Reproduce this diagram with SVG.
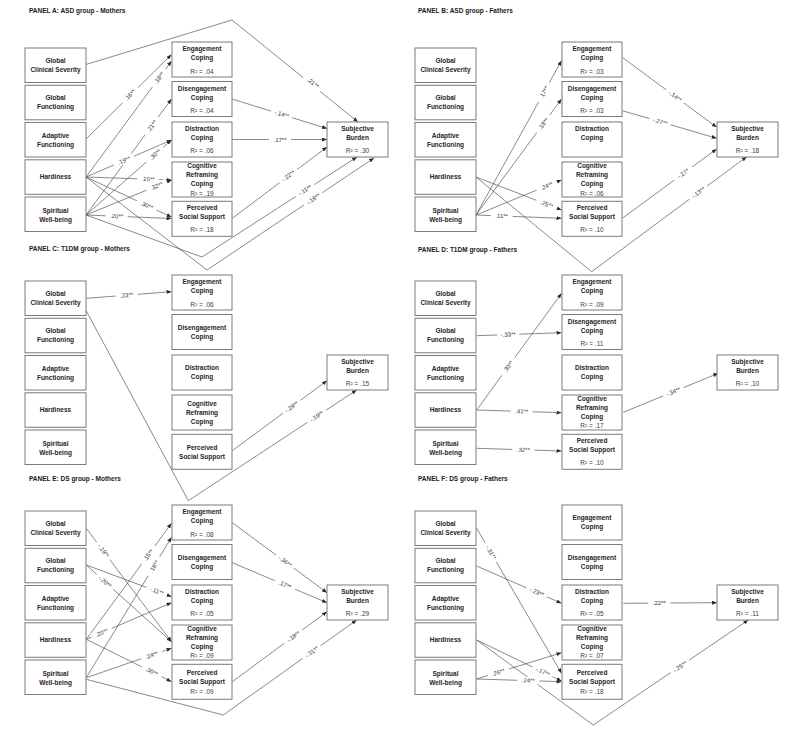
<svg xmlns="http://www.w3.org/2000/svg" width="799" height="736" viewBox="0 0 799 736">
<style>
.box{fill:#fff;stroke:#7a7a7a;stroke-width:1}
.nt{font-family:"Liberation Sans",Arial,sans-serif;font-size:6.5px;font-weight:bold;fill:#262626;text-anchor:middle}
.r2{font-family:"Liberation Sans",Arial,sans-serif;font-size:6.5px;fill:#404040;text-anchor:middle}
.ttl{font-family:"Liberation Sans",Arial,sans-serif;font-size:6.5px;font-weight:bold;fill:#1a1a1a}
.edge{fill:none;stroke:#3a3a3a;stroke-width:0.6;marker-end:url(#ah)}
.lb{fill:#fff}
.lt{font-family:"Liberation Sans",Arial,sans-serif;font-size:6px;fill:#333;text-anchor:middle}
</style>
<defs>
<marker id="ah" markerUnits="userSpaceOnUse" markerWidth="5" markerHeight="4" refX="5" refY="2" orient="auto"><path d="M0,0 L5,2 L0,4 z" fill="#2a2a2a"/></marker>
</defs>
<rect width="799" height="736" fill="#fff"/>
<text class="ttl" x="29" y="12.5">PANEL A: ASD group - Mothers</text>
<text class="ttl" x="418" y="12.5">PANEL B: ASD group - Fathers</text>
<text class="ttl" x="29" y="251">PANEL C: T1DM group - Mothers</text>
<text class="ttl" x="418" y="252">PANEL D: T1DM group - Fathers</text>
<text class="ttl" x="29" y="481">PANEL E: DS group - Mothers</text>
<text class="ttl" x="418" y="481">PANEL F: DS group - Fathers</text>

<!-- PANEL A -->
<g id="panelA">
<g id="A-connectors">
<polyline class="edge" points="86,64.5 232,20 358,122"/>
<line class="edge" x1="86" y1="139" x2="171.5" y2="54.5"/>
<line class="edge" x1="86" y1="177" x2="171.5" y2="61"/>
<line class="edge" x1="86" y1="215" x2="171.5" y2="99"/>
<line class="edge" x1="86" y1="177" x2="171.5" y2="140"/>
<line class="edge" x1="86" y1="215" x2="171.5" y2="140"/>
<line class="edge" x1="86" y1="177" x2="171.5" y2="180"/>
<line class="edge" x1="86" y1="215" x2="171.5" y2="180"/>
<line class="edge" x1="86" y1="177" x2="171.5" y2="217"/>
<line class="edge" x1="86" y1="215" x2="171.5" y2="218.5"/>
<polyline class="edge" points="86,177 207,270 374,158"/>
<polyline class="edge" points="86,215 202,257 357,157"/>
<line class="edge" x1="232" y1="99" x2="327" y2="128.5"/>
<line class="edge" x1="232" y1="139.5" x2="327" y2="139.5"/>
<line class="edge" x1="232" y1="218.5" x2="327" y2="147"/>
<g transform="translate(313,83) rotate(39)"><rect class="lb" x="-11" y="-3.5" width="22" height="7"/><text class="lt" y="2">.21**</text></g>
<g transform="translate(130,95) rotate(-44.7)"><rect class="lb" x="-11" y="-3.5" width="22" height="7"/><text class="lt" y="2">.16**</text></g>
<g transform="translate(159,78) rotate(-53.6)"><rect class="lb" x="-11" y="-3.5" width="22" height="7"/><text class="lt" y="2">.18**</text></g>
<g transform="translate(151.7,126) rotate(-53.6)"><rect class="lb" x="-11" y="-3.5" width="22" height="7"/><text class="lt" y="2">.21**</text></g>
<g transform="translate(124,160.6) rotate(-23.4)"><rect class="lb" x="-11" y="-3.5" width="22" height="7"/><text class="lt" y="2">.19**</text></g>
<g transform="translate(155,154.5) rotate(-41.3)"><rect class="lb" x="-11" y="-3.5" width="22" height="7"/><text class="lt" y="2">.30**</text></g>
<g transform="translate(148,179.2) rotate(2)"><rect class="lb" x="-11" y="-3.5" width="22" height="7"/><text class="lt" y="2">.15**</text></g>
<g transform="translate(156.7,186) rotate(-22.3)"><rect class="lb" x="-11" y="-3.5" width="22" height="7"/><text class="lt" y="2">.32**</text></g>
<g transform="translate(146.7,205.4) rotate(25)"><rect class="lb" x="-11" y="-3.5" width="22" height="7"/><text class="lt" y="2">.30**</text></g>
<g transform="translate(116.7,216.2) rotate(2.3)"><rect class="lb" x="-11" y="-3.5" width="22" height="7"/><text class="lt" y="2">.20**</text></g>
<g transform="translate(313.3,199) rotate(-33.8)"><rect class="lb" x="-11" y="-3.5" width="22" height="7"/><text class="lt" y="2">-.18**</text></g>
<g transform="translate(305,190.2) rotate(-33)"><rect class="lb" x="-11" y="-3.5" width="22" height="7"/><text class="lt" y="2">-.11**</text></g>
<g transform="translate(281.7,114.3) rotate(17)"><rect class="lb" x="-11" y="-3.5" width="22" height="7"/><text class="lt" y="2">-.14**</text></g>
<g transform="translate(280,139.5)"><rect class="lb" x="-11" y="-3.5" width="22" height="7"/><text class="lt" y="2">.17**</text></g>
<g transform="translate(288.3,175.9) rotate(-37)"><rect class="lb" x="-11" y="-3.5" width="22" height="7"/><text class="lt" y="2">-.22**</text></g>
</g>
<g id="A-gcs"><rect class="box" x="25" y="48" width="61" height="34.5"/><text class="nt" x="55.5" y="63">Global</text><text class="nt" x="55.5" y="72">Clinical Severity</text></g>
<g id="A-gf"><rect class="box" x="25" y="85.3" width="61" height="34.5"/><text class="nt" x="55.5" y="100.3">Global</text><text class="nt" x="55.5" y="109.3">Functioning</text></g>
<g id="A-af"><rect class="box" x="25" y="122.5" width="61" height="34.5"/><text class="nt" x="55.5" y="138">Adaptive</text><text class="nt" x="55.5" y="147">Functioning</text></g>
<g id="A-hard"><rect class="box" x="25" y="159.8" width="61" height="34.5"/><text class="nt" x="55.5" y="179.3">Hardiness</text></g>
<g id="A-swb"><rect class="box" x="25" y="197" width="61" height="34.5"/><text class="nt" x="55.5" y="213">Spiritual</text><text class="nt" x="55.5" y="222">Well-being</text></g>
<g id="A-eng"><rect class="box" x="172" y="42" width="60" height="35"/><text class="nt" x="202" y="51.3">Engagement</text><text class="nt" x="202" y="60.3">Coping</text><text class="r2" x="202" y="73.6">R² = .04</text></g>
<g id="A-dis"><rect class="box" x="172" y="81.5" width="60" height="35"/><text class="nt" x="202" y="90.6">Disengagement</text><text class="nt" x="202" y="99.6">Coping</text><text class="r2" x="202" y="112.6">R² = .04</text></g>
<g id="A-dst"><rect class="box" x="172" y="122" width="60" height="35"/><text class="nt" x="202" y="131.3">Distraction</text><text class="nt" x="202" y="140">Coping</text><text class="r2" x="202" y="153.3">R² = .06</text></g>
<g id="A-cog"><rect class="box" x="172" y="162" width="60" height="35"/><text class="nt" x="202" y="168">Cognitive</text><text class="nt" x="202" y="177">Reframing</text><text class="nt" x="202" y="186.3">Coping</text><text class="r2" x="202" y="195.6">R² = .19</text></g>
<g id="A-pss"><rect class="box" x="172" y="201.3" width="60" height="35"/><text class="nt" x="202" y="209.6">Perceived</text><text class="nt" x="202" y="218.6">Social Support</text><text class="r2" x="202" y="232.3">R² = .18</text></g>
<g id="A-sb"><rect class="box" x="327" y="122" width="61" height="35"/><text class="nt" x="357.5" y="131.3">Subjective</text><text class="nt" x="357.5" y="139.6">Burden</text><text class="r2" x="357.5" y="153.3">R² = .30</text></g>
</g>

<!-- PANEL B -->
<g id="panelB" transform="translate(390,0)">
<g id="B-connectors">
<line class="edge" x1="86" y1="215" x2="171.5" y2="60.7"/>
<line class="edge" x1="86" y1="215" x2="171.5" y2="99"/>
<line class="edge" x1="86" y1="215" x2="171.5" y2="180"/>
<line class="edge" x1="86" y1="215" x2="171.5" y2="218.3"/>
<line class="edge" x1="86" y1="177" x2="171.5" y2="210"/>
<polyline class="edge" points="86,177 201.7,271.7 356.7,156.7"/>
<line class="edge" x1="232.3" y1="57.3" x2="326.7" y2="127.3"/>
<line class="edge" x1="232.3" y1="110.7" x2="326.7" y2="138.3"/>
<line class="edge" x1="232.3" y1="218.3" x2="326.7" y2="149"/>
<g transform="translate(154,92.3) rotate(-61)"><rect class="lb" x="-11" y="-3.5" width="22" height="7"/><text class="lt" y="2">.17**</text></g>
<g transform="translate(153.3,123.8) rotate(-53.6)"><rect class="lb" x="-11" y="-3.5" width="22" height="7"/><text class="lt" y="2">.18**</text></g>
<g transform="translate(156.7,186) rotate(-22.3)"><rect class="lb" x="-11" y="-3.5" width="22" height="7"/><text class="lt" y="2">.24**</text></g>
<g transform="translate(111.7,216) rotate(2)"><rect class="lb" x="-11" y="-3.5" width="22" height="7"/><text class="lt" y="2">.11**</text></g>
<g transform="translate(156.7,204.3) rotate(21)"><rect class="lb" x="-11" y="-3.5" width="22" height="7"/><text class="lt" y="2">.25**</text></g>
<g transform="translate(308.3,192.6) rotate(-36.6)"><rect class="lb" x="-11" y="-3.5" width="22" height="7"/><text class="lt" y="2">-.13**</text></g>
<g transform="translate(285,96.3) rotate(36.6)"><rect class="lb" x="-11" y="-3.5" width="22" height="7"/><text class="lt" y="2">-.14**</text></g>
<g transform="translate(270,121.7) rotate(16.3)"><rect class="lb" x="-11" y="-3.5" width="22" height="7"/><text class="lt" y="2">-.27**</text></g>
<g transform="translate(293.3,173.5) rotate(-36.3)"><rect class="lb" x="-11" y="-3.5" width="22" height="7"/><text class="lt" y="2">-.27*</text></g>
</g>
<g id="B-gcs"><rect class="box" x="25" y="48" width="61" height="34.5"/><text class="nt" x="55.5" y="63">Global</text><text class="nt" x="55.5" y="72">Clinical Severity</text></g>
<g id="B-gf"><rect class="box" x="25" y="85.3" width="61" height="34.5"/><text class="nt" x="55.5" y="100.3">Global</text><text class="nt" x="55.5" y="109.3">Functioning</text></g>
<g id="B-af"><rect class="box" x="25" y="122.5" width="61" height="34.5"/><text class="nt" x="55.5" y="138">Adaptive</text><text class="nt" x="55.5" y="147">Functioning</text></g>
<g id="B-hard"><rect class="box" x="25" y="159.8" width="61" height="34.5"/><text class="nt" x="55.5" y="179.3">Hardiness</text></g>
<g id="B-swb"><rect class="box" x="25" y="197" width="61" height="34.5"/><text class="nt" x="55.5" y="213">Spiritual</text><text class="nt" x="55.5" y="222">Well-being</text></g>
<g id="B-eng"><rect class="box" x="172" y="42" width="60" height="35"/><text class="nt" x="202" y="51.3">Engagement</text><text class="nt" x="202" y="60.3">Coping</text><text class="r2" x="202" y="73.6">R² = .03</text></g>
<g id="B-dis"><rect class="box" x="172" y="81.5" width="60" height="35"/><text class="nt" x="202" y="90.6">Disengagement</text><text class="nt" x="202" y="99.6">Coping</text><text class="r2" x="202" y="112.6">R² = .03</text></g>
<g id="B-dst"><rect class="box" x="172" y="122" width="60" height="35"/><text class="nt" x="202" y="131.3">Distraction</text><text class="nt" x="202" y="140">Coping</text></g>
<g id="B-cog"><rect class="box" x="172" y="162" width="60" height="35"/><text class="nt" x="202" y="168">Cognitive</text><text class="nt" x="202" y="177">Reframing</text><text class="nt" x="202" y="186.3">Coping</text><text class="r2" x="202" y="195.6">R² = .06</text></g>
<g id="B-pss"><rect class="box" x="172" y="201.3" width="60" height="35"/><text class="nt" x="202" y="209.6">Perceived</text><text class="nt" x="202" y="218.6">Social Support</text><text class="r2" x="202" y="232.3">R² = .10</text></g>
<g id="B-sb"><rect class="box" x="327" y="122" width="61" height="35"/><text class="nt" x="357.5" y="131.3">Subjective</text><text class="nt" x="357.5" y="139.6">Burden</text><text class="r2" x="357.5" y="153.3">R² = .18</text></g>
</g>

<!-- PANEL C -->
<g id="panelC" transform="translate(0,233)">
<g id="C-connectors">
<line class="edge" x1="86.3" y1="65.3" x2="171.5" y2="58.7"/>
<polyline class="edge" points="86.3,78 188.3,267.7 356.7,157"/>
<line class="edge" x1="232.3" y1="217.7" x2="327" y2="147.7"/>
<g transform="translate(126.7,62.2) rotate(-4.4)"><rect class="lb" x="-11" y="-3.5" width="22" height="7"/><text class="lt" y="2">.23**</text></g>
<g transform="translate(316.7,183.3) rotate(-33.3)"><rect class="lb" x="-11" y="-3.5" width="22" height="7"/><text class="lt" y="2">-.19**</text></g>
<g transform="translate(291.7,173.9) rotate(-36.5)"><rect class="lb" x="-11" y="-3.5" width="22" height="7"/><text class="lt" y="2">-.29**</text></g>
</g>
<g id="C-gcs"><rect class="box" x="25" y="48" width="61" height="34.5"/><text class="nt" x="55.5" y="63">Global</text><text class="nt" x="55.5" y="72">Clinical Severity</text></g>
<g id="C-gf"><rect class="box" x="25" y="85.3" width="61" height="34.5"/><text class="nt" x="55.5" y="100.3">Global</text><text class="nt" x="55.5" y="109.3">Functioning</text></g>
<g id="C-af"><rect class="box" x="25" y="122.5" width="61" height="34.5"/><text class="nt" x="55.5" y="138">Adaptive</text><text class="nt" x="55.5" y="147">Functioning</text></g>
<g id="C-hard"><rect class="box" x="25" y="159.8" width="61" height="34.5"/><text class="nt" x="55.5" y="179.3">Hardiness</text></g>
<g id="C-swb"><rect class="box" x="25" y="197" width="61" height="34.5"/><text class="nt" x="55.5" y="213">Spiritual</text><text class="nt" x="55.5" y="222">Well-being</text></g>
<g id="C-eng"><rect class="box" x="172" y="42" width="60" height="35"/><text class="nt" x="202" y="51.3">Engagement</text><text class="nt" x="202" y="60.3">Coping</text><text class="r2" x="202" y="73.6">R² = .06</text></g>
<g id="C-dis"><rect class="box" x="172" y="81.5" width="60" height="35"/><text class="nt" x="202" y="96.8">Disengagement</text><text class="nt" x="202" y="105.8">Coping</text></g>
<g id="C-dst"><rect class="box" x="172" y="122" width="60" height="35"/><text class="nt" x="202" y="137.3">Distraction</text><text class="nt" x="202" y="146.3">Coping</text></g>
<g id="C-cog"><rect class="box" x="172" y="162" width="60" height="35"/><text class="nt" x="202" y="172.6">Cognitive</text><text class="nt" x="202" y="181.6">Reframing</text><text class="nt" x="202" y="191">Coping</text></g>
<g id="C-pss"><rect class="box" x="172" y="201.3" width="60" height="35"/><text class="nt" x="202" y="216.6">Perceived</text><text class="nt" x="202" y="225.6">Social Support</text></g>
<g id="C-sb"><rect class="box" x="327" y="122" width="61" height="35"/><text class="nt" x="357.5" y="131.3">Subjective</text><text class="nt" x="357.5" y="139.6">Burden</text><text class="r2" x="357.5" y="153.3">R² = .15</text></g>
</g>

<!-- PANEL D -->
<g id="panelD" transform="translate(390,233)">
<g id="D-connectors">
<line class="edge" x1="86.7" y1="102.7" x2="171.5" y2="99.7"/>
<line class="edge" x1="86.7" y1="177" x2="171.5" y2="60.3"/>
<line class="edge" x1="86.7" y1="177" x2="171.5" y2="179.7"/>
<line class="edge" x1="86.7" y1="215.3" x2="171.5" y2="218"/>
<line class="edge" x1="233.3" y1="179.3" x2="328.3" y2="140.3"/>
<g transform="translate(118.3,101.6) rotate(-2)"><rect class="lb" x="-11" y="-3.5" width="22" height="7"/><text class="lt" y="2">-.33**</text></g>
<g transform="translate(118.3,133.5) rotate(-54)"><rect class="lb" x="-11" y="-3.5" width="22" height="7"/><text class="lt" y="2">.30**</text></g>
<g transform="translate(131.7,178.4) rotate(2)"><rect class="lb" x="-11" y="-3.5" width="22" height="7"/><text class="lt" y="2">.41**</text></g>
<g transform="translate(133.3,216.8) rotate(2)"><rect class="lb" x="-11" y="-3.5" width="22" height="7"/><text class="lt" y="2">.32**</text></g>
<g transform="translate(283.3,158.8) rotate(-22.3)"><rect class="lb" x="-11" y="-3.5" width="22" height="7"/><text class="lt" y="2">-.34**</text></g>
</g>
<g id="D-gcs"><rect class="box" x="25" y="48" width="61" height="34.5"/><text class="nt" x="55.5" y="63">Global</text><text class="nt" x="55.5" y="72">Clinical Severity</text></g>
<g id="D-gf"><rect class="box" x="25" y="85.3" width="61" height="34.5"/><text class="nt" x="55.5" y="100.3">Global</text><text class="nt" x="55.5" y="109.3">Functioning</text></g>
<g id="D-af"><rect class="box" x="25" y="122.5" width="61" height="34.5"/><text class="nt" x="55.5" y="138">Adaptive</text><text class="nt" x="55.5" y="147">Functioning</text></g>
<g id="D-hard"><rect class="box" x="25" y="159.8" width="61" height="34.5"/><text class="nt" x="55.5" y="179.3">Hardiness</text></g>
<g id="D-swb"><rect class="box" x="25" y="197" width="61" height="34.5"/><text class="nt" x="55.5" y="213">Spiritual</text><text class="nt" x="55.5" y="222">Well-being</text></g>
<g id="D-eng"><rect class="box" x="172" y="42" width="60" height="35"/><text class="nt" x="202" y="51.3">Engagement</text><text class="nt" x="202" y="60.3">Coping</text><text class="r2" x="202" y="73.6">R² = .09</text></g>
<g id="D-dis"><rect class="box" x="172" y="81.5" width="60" height="35"/><text class="nt" x="202" y="90.6">Disengagement</text><text class="nt" x="202" y="99.6">Coping</text><text class="r2" x="202" y="112.6">R² = .11</text></g>
<g id="D-dst"><rect class="box" x="172" y="122" width="60" height="35"/><text class="nt" x="202" y="137.3">Distraction</text><text class="nt" x="202" y="146.3">Coping</text></g>
<g id="D-cog"><rect class="box" x="172" y="162" width="60" height="35"/><text class="nt" x="202" y="168">Cognitive</text><text class="nt" x="202" y="177">Reframing</text><text class="nt" x="202" y="186.3">Coping</text><text class="r2" x="202" y="195">R² = .17</text></g>
<g id="D-pss"><rect class="box" x="172" y="201.3" width="60" height="35"/><text class="nt" x="202" y="209.6">Perceived</text><text class="nt" x="202" y="218.6">Social Support</text><text class="r2" x="202" y="232.3">R² = .10</text></g>
<g id="D-sb"><rect class="box" x="327" y="122" width="61" height="35"/><text class="nt" x="357.5" y="131.3">Subjective</text><text class="nt" x="357.5" y="139.6">Burden</text><text class="r2" x="357.5" y="153.3">R² = .10</text></g>
</g>

<!-- PANEL E -->
<g id="panelE" transform="translate(0,463)">
<g id="E-connectors">
<line class="edge" x1="86.3" y1="65.3" x2="171.5" y2="178.7"/>
<line class="edge" x1="86.3" y1="102" x2="171.5" y2="133.7"/>
<line class="edge" x1="86.3" y1="102" x2="171.5" y2="178.7"/>
<line class="edge" x1="86.3" y1="176.3" x2="171.5" y2="60.3"/>
<line class="edge" x1="86.3" y1="176.3" x2="171.5" y2="139.7"/>
<line class="edge" x1="86.3" y1="176.3" x2="171.5" y2="218.7"/>
<line class="edge" x1="86.3" y1="214.7" x2="171.5" y2="74.3"/>
<line class="edge" x1="86.3" y1="214.7" x2="171.5" y2="185.3"/>
<polyline class="edge" points="86.3,216.3 223.3,252 356.7,157"/>
<line class="edge" x1="232.3" y1="59.7" x2="327" y2="129.7"/>
<line class="edge" x1="232.3" y1="99.7" x2="327" y2="139.7"/>
<line class="edge" x1="232.3" y1="218.7" x2="327" y2="148.7"/>
<g transform="translate(103.3,87.9) rotate(53)"><rect class="lb" x="-11" y="-3.5" width="22" height="7"/><text class="lt" y="2">-.19**</text></g>
<g transform="translate(156.7,128.1) rotate(20.4)"><rect class="lb" x="-11" y="-3.5" width="22" height="7"/><text class="lt" y="2">-.11**</text></g>
<g transform="translate(105,118.8) rotate(42)"><rect class="lb" x="-11" y="-3.5" width="22" height="7"/><text class="lt" y="2">-.20**</text></g>
<g transform="translate(148.3,92.1) rotate(-53.6)"><rect class="lb" x="-11" y="-3.5" width="22" height="7"/><text class="lt" y="2">.15**</text></g>
<g transform="translate(101.7,169.7) rotate(-23.2)"><rect class="lb" x="-11" y="-3.5" width="22" height="7"/><text class="lt" y="2">.20**</text></g>
<g transform="translate(151.7,208.7) rotate(26.4)"><rect class="lb" x="-11" y="-3.5" width="22" height="7"/><text class="lt" y="2">.30**</text></g>
<g transform="translate(154,103.4) rotate(-58.7)"><rect class="lb" x="-11" y="-3.5" width="22" height="7"/><text class="lt" y="2">.18**</text></g>
<g transform="translate(151.7,192.2) rotate(-19)"><rect class="lb" x="-11" y="-3.5" width="22" height="7"/><text class="lt" y="2">.24**</text></g>
<g transform="translate(311.7,189) rotate(-35.5)"><rect class="lb" x="-11" y="-3.5" width="22" height="7"/><text class="lt" y="2">-.31**</text></g>
<g transform="translate(285,98.5) rotate(36.4)"><rect class="lb" x="-11" y="-3.5" width="22" height="7"/><text class="lt" y="2">-.36**</text></g>
<g transform="translate(285,121.9) rotate(22.8)"><rect class="lb" x="-11" y="-3.5" width="22" height="7"/><text class="lt" y="2">.17**</text></g>
<g transform="translate(293.3,173.7) rotate(-36.4)"><rect class="lb" x="-11" y="-3.5" width="22" height="7"/><text class="lt" y="2">-.18**</text></g>
</g>
<g id="E-gcs"><rect class="box" x="25" y="48" width="61" height="34.5"/><text class="nt" x="55.5" y="63">Global</text><text class="nt" x="55.5" y="72">Clinical Severity</text></g>
<g id="E-gf"><rect class="box" x="25" y="85.3" width="61" height="34.5"/><text class="nt" x="55.5" y="100.3">Global</text><text class="nt" x="55.5" y="109.3">Functioning</text></g>
<g id="E-af"><rect class="box" x="25" y="122.5" width="61" height="34.5"/><text class="nt" x="55.5" y="138">Adaptive</text><text class="nt" x="55.5" y="147">Functioning</text></g>
<g id="E-hard"><rect class="box" x="25" y="159.8" width="61" height="34.5"/><text class="nt" x="55.5" y="179.3">Hardiness</text></g>
<g id="E-swb"><rect class="box" x="25" y="197" width="61" height="34.5"/><text class="nt" x="55.5" y="213">Spiritual</text><text class="nt" x="55.5" y="222">Well-being</text></g>
<g id="E-eng"><rect class="box" x="172" y="42" width="60" height="35"/><text class="nt" x="202" y="51.3">Engagement</text><text class="nt" x="202" y="60.3">Coping</text><text class="r2" x="202" y="73.6">R² = .08</text></g>
<g id="E-dis"><rect class="box" x="172" y="81.5" width="60" height="35"/><text class="nt" x="202" y="96.8">Disengagement</text><text class="nt" x="202" y="105.8">Coping</text></g>
<g id="E-dst"><rect class="box" x="172" y="122" width="60" height="35"/><text class="nt" x="202" y="131.3">Distraction</text><text class="nt" x="202" y="140">Coping</text><text class="r2" x="202" y="153.3">R² = .05</text></g>
<g id="E-cog"><rect class="box" x="172" y="162" width="60" height="35"/><text class="nt" x="202" y="168">Cognitive</text><text class="nt" x="202" y="177">Reframing</text><text class="nt" x="202" y="186.3">Coping</text><text class="r2" x="202" y="195.3">R² = .09</text></g>
<g id="E-pss"><rect class="box" x="172" y="201.3" width="60" height="35"/><text class="nt" x="202" y="212.3">Perceived</text><text class="nt" x="202" y="221.3">Social Support</text><text class="r2" x="202" y="230.6">R² = .09</text></g>
<g id="E-sb"><rect class="box" x="327" y="122" width="61" height="35"/><text class="nt" x="357.5" y="131.3">Subjective</text><text class="nt" x="357.5" y="139.6">Burden</text><text class="r2" x="357.5" y="153.3">R² = .29</text></g>
</g>

<!-- PANEL F -->
<g id="panelF" transform="translate(390,463)">
<g id="F-connectors">
<line class="edge" x1="86.7" y1="65.3" x2="171.5" y2="210.3"/>
<line class="edge" x1="86.7" y1="103" x2="171.5" y2="140.3"/>
<line class="edge" x1="86.7" y1="177" x2="171.5" y2="218"/>
<polyline class="edge" points="86.7,177 203.3,262 358.3,157"/>
<line class="edge" x1="86.7" y1="216" x2="171.5" y2="189.7"/>
<line class="edge" x1="86.7" y1="216" x2="171.5" y2="218.7"/>
<line class="edge" x1="233.3" y1="140.3" x2="327" y2="139.7"/>
<g transform="translate(101,89.5) rotate(59.4)"><rect class="lb" x="-11" y="-3.5" width="22" height="7"/><text class="lt" y="2">-.31**</text></g>
<g transform="translate(146.7,129.2) rotate(23.6)"><rect class="lb" x="-11" y="-3.5" width="22" height="7"/><text class="lt" y="2">-.23**</text></g>
<g transform="translate(152.7,208.6) rotate(25.6)"><rect class="lb" x="-11" y="-3.5" width="22" height="7"/><text class="lt" y="2">-.17**</text></g>
<g transform="translate(290,203.8) rotate(-34)"><rect class="lb" x="-11" y="-3.5" width="22" height="7"/><text class="lt" y="2">-.25**</text></g>
<g transform="translate(108.3,209.4) rotate(-17)"><rect class="lb" x="-11" y="-3.5" width="22" height="7"/><text class="lt" y="2">.26**</text></g>
<g transform="translate(138.3,217.5) rotate(2)"><rect class="lb" x="-11" y="-3.5" width="22" height="7"/><text class="lt" y="2">.24**</text></g>
<g transform="translate(269.3,140)"><rect class="lb" x="-11" y="-3.5" width="22" height="7"/><text class="lt" y="2">.22**</text></g>
</g>
<g id="F-gcs"><rect class="box" x="25" y="48" width="61" height="34.5"/><text class="nt" x="55.5" y="63">Global</text><text class="nt" x="55.5" y="72">Clinical Severity</text></g>
<g id="F-gf"><rect class="box" x="25" y="85.3" width="61" height="34.5"/><text class="nt" x="55.5" y="100.3">Global</text><text class="nt" x="55.5" y="109.3">Functioning</text></g>
<g id="F-af"><rect class="box" x="25" y="122.5" width="61" height="34.5"/><text class="nt" x="55.5" y="138">Adaptive</text><text class="nt" x="55.5" y="147">Functioning</text></g>
<g id="F-hard"><rect class="box" x="25" y="159.8" width="61" height="34.5"/><text class="nt" x="55.5" y="179.3">Hardiness</text></g>
<g id="F-swb"><rect class="box" x="25" y="197" width="61" height="34.5"/><text class="nt" x="55.5" y="213">Spiritual</text><text class="nt" x="55.5" y="222">Well-being</text></g>
<g id="F-eng"><rect class="box" x="172" y="42" width="60" height="35"/><text class="nt" x="202" y="57.3">Engagement</text><text class="nt" x="202" y="66.3">Coping</text></g>
<g id="F-dis"><rect class="box" x="172" y="81.5" width="60" height="35"/><text class="nt" x="202" y="96.8">Disengagement</text><text class="nt" x="202" y="105.8">Coping</text></g>
<g id="F-dst"><rect class="box" x="172" y="122" width="60" height="35"/><text class="nt" x="202" y="131.3">Distraction</text><text class="nt" x="202" y="140">Coping</text><text class="r2" x="202" y="153.3">R² = .05</text></g>
<g id="F-cog"><rect class="box" x="172" y="162" width="60" height="35"/><text class="nt" x="202" y="168">Cognitive</text><text class="nt" x="202" y="177">Reframing</text><text class="nt" x="202" y="186.3">Coping</text><text class="r2" x="202" y="195.3">R² = .07</text></g>
<g id="F-pss"><rect class="box" x="172" y="201.3" width="60" height="35"/><text class="nt" x="202" y="212.3">Perceived</text><text class="nt" x="202" y="221.3">Social Support</text><text class="r2" x="202" y="230.6">R² = .18</text></g>
<g id="F-sb"><rect class="box" x="327" y="122" width="61" height="35"/><text class="nt" x="357.5" y="131.3">Subjective</text><text class="nt" x="357.5" y="139.6">Burden</text><text class="r2" x="357.5" y="153.3">R² = .11</text></g>
</g>
</svg>
